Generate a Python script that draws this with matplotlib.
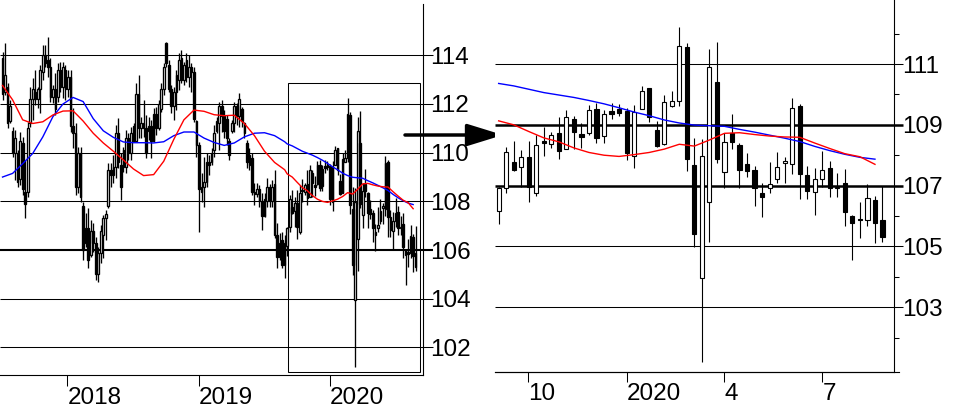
import numpy as np
import pandas as pd
import matplotlib
matplotlib.use('Agg')
import matplotlib.pyplot as plt
import matplotlib.dates as mdates
from matplotlib.patches import Rectangle

plt.rcParams['font.family'] = ['Liberation Sans', 'DejaVu Sans']
plt.rcParams['font.size'] = 17.5

# weekly bars, one per week starting 2017-07-05 (mid-week placement)
weeks = pd.date_range('2017-07-05', periods=165, freq='7D')

opn = [113.9, 112.5, 112.7, 111.3, 110.9, 110.0, 110.0, 108.9, 110.4, 108.4,
       108.4, 111.2, 112.2, 112.5, 112.2, 112.6, 113.3, 114.0, 113.8, 113.5,
       112.3, 112.6, 112.3, 113.4, 112.7, 113.4, 112.6, 113.1, 111.1, 110.8,
       108.6, 110.0, 107.8, 106.3, 106.9, 105.8, 106.8, 106.3, 105.0, 105.9,
       106.6, 107.3, 107.8, 109.3, 109.1, 109.4, 110.8, 109.5, 110.1, 109.4,
       110.6, 110.0, 111.1, 110.5, 112.4, 111.0, 111.2, 111.0, 110.9, 111.1,
       110.5, 111.6, 111.0, 111.8, 112.6, 114.5, 113.6, 112.6, 111.9, 112.5,
       113.0, 113.9, 113.0, 113.8, 113.1, 113.5, 113.3, 111.3, 110.3, 108.4,
       108.6, 108.8, 109.6, 109.6, 110.1, 110.9, 111.2, 111.9, 111.5, 111.4,
       110.5, 110.9, 111.2, 111.9, 111.5, 111.8, 111.2, 110.4, 109.5, 109.8,
       108.4, 108.3, 108.5, 108.0, 107.4, 108.0, 108.6, 108.0, 108.7, 106.6,
       105.7, 106.4, 105.4,
       106.15, 106.93, 107.77, 107.61, 107.95, 106.75, 108.47, 108.37, 108.72, 108.20,
       109.18, 108.69, 108.72, 109.51, 108.62, 109.45, 109.51, 109.46, 107.97, 109.51,
       110.20, 108.83, 108.36, 109.62, 109.78, 111.55, 107.68, 103.95, 106.47, 110.41,
       107.44, 108.72, 108.34, 107.70, 107.51, 106.76, 106.91, 107.21, 107.73, 107.70,
       109.62, 107.35, 106.80, 107.21, 107.57, 106.91, 107.08, 106.00, 105.91, 105.87,
       106.53, 105.87]
high = [114.15, 114.49, 112.85, 112.16, 111.07, 110.93, 110.11, 110.86, 110.66, 109.7,
        111.27, 112.71, 113.05, 113.4, 112.71, 113.6, 114.42, 114.42, 114.77, 113.88,
        112.78, 113.26, 113.67, 113.74, 113.74, 113.6, 113.4, 113.4, 111.82, 111.21,
        110.25, 110.25, 107.99, 107.51, 107.72, 107.24, 107.1, 106.55, 106.14, 107.03,
        107.44, 107.65, 109.56, 109.56, 109.9, 111.14, 111.41, 109.97, 110.25, 110.93,
        110.8, 111.07, 111.21, 112.85, 113.19, 111.48, 112.16, 111.55, 111.48, 111.34,
        111.82, 111.89, 112.16, 112.85, 113.67, 114.56, 113.8, 112.78, 112.71, 113.4,
        114.08, 114.22, 113.74, 114.08, 114.01, 113.67, 113.53, 111.34, 110.45, 109.15,
        109.84, 109.97, 109.9, 110.18, 111.14, 111.48, 112.1, 112.16, 111.75, 111.55,
        110.59, 111.34, 112.1, 112.03, 112.44, 111.89, 111.27, 110.52, 110.18, 109.97,
        108.74, 108.74, 108.67, 108.33, 108.33, 108.95, 108.7, 108.88, 109.29, 107.1,
        106.69, 106.76, 106.62,
        106.95, 108.28, 108.47, 108.17, 108.47, 108.66, 108.94, 108.77, 109.27, 109.49,
        109.29, 109.05, 109.65, 109.71, 109.49, 109.71, 109.67, 109.54, 109.65, 110.29,
        110.20, 109.13, 109.98, 110.11, 112.23, 111.68, 108.58, 108.53, 111.48, 111.71,
        108.74, 109.35, 108.39, 108.06, 107.64, 107.08, 107.77, 108.10, 107.95, 109.87,
        109.70, 107.64, 107.57, 108.14, 107.81, 107.40, 107.54, 106.03, 106.45, 107.04,
        106.66, 106.99]
low = [112.16, 112.37, 111.0, 111.21, 109.84, 108.88, 108.6, 108.67, 108.26, 107.3,
       108.2, 111.07, 111.34, 111.96, 111.82, 111.62, 112.99, 113.53, 113.12, 112.1,
       112.03, 111.55, 112.1, 112.51, 112.23, 112.16, 112.3, 110.86, 110.18, 108.26,
       108.33, 107.99, 105.59, 106.14, 105.25, 105.73, 105.94, 104.77, 104.7, 105.46,
       105.66, 106.41, 107.72, 108.6, 108.74, 108.95, 109.36, 108.06, 109.22, 109.15,
       109.7, 109.7, 110.45, 110.5, 110.59, 110.59, 110.66, 109.77, 110.52, 109.77,
       110.45, 110.73, 110.93, 111.69, 112.37, 113.53, 112.51, 111.62, 111.34, 111.75,
       112.58, 112.85, 112.78, 112.92, 112.71, 112.51, 111.25, 109.84, 106.76, 107.99,
       107.79, 108.6, 109.09, 109.5, 109.84, 110.8, 110.11, 110.86, 110.59, 110.32,
       109.7, 110.8, 110.86, 111.14, 111.07, 111.07, 110.59, 109.36, 109.29, 108.26,
       107.85, 108.2, 107.78, 106.83, 107.37, 107.78, 107.78, 107.78, 106.5, 105.25,
       105.59, 105.25, 104.84,
       105.74, 106.75, 107.49, 106.96, 106.47, 106.67, 107.97, 108.25, 107.87, 108.20,
       108.19, 108.23, 108.66, 108.41, 108.41, 109.18, 109.29, 107.84, 107.59, 109.51,
       109.10, 108.28, 108.34, 109.60, 109.62, 107.49, 104.99, 101.19, 105.13, 107.73,
       106.91, 108.19, 106.91, 107.27, 106.34, 105.98, 106.75, 107.08, 107.08, 107.38,
       106.55, 106.55, 106.03, 106.96, 106.64, 106.64, 105.67, 104.55, 105.29, 105.67,
       105.10, 105.16]
close = [112.4, 113.2, 111.2, 111.9, 110.0, 110.6, 108.8, 110.5, 108.5, 107.9,
         111.0, 112.2, 112.6, 112.2, 112.6, 113.4, 114.0, 113.7, 113.5, 112.3,
         112.6, 111.8, 113.4, 112.7, 113.5, 112.6, 113.1, 111.1, 110.8, 108.6,
         110.0, 108.2, 106.0, 106.9, 105.6, 106.8, 106.3, 105.0, 105.9, 106.8,
         107.3, 107.5, 109.3, 109.1, 109.4, 110.8, 109.6, 108.6, 109.4, 110.6,
         110.0, 110.8, 110.5, 112.4, 111.0, 111.2, 111.0, 110.0, 111.1, 110.5,
         111.6, 111.0, 112.0, 112.6, 113.5, 113.7, 112.6, 111.9, 112.5, 113.2,
         113.8, 113.0, 113.6, 113.1, 113.5, 113.3, 111.4, 110.3, 108.5, 108.6,
         108.8, 109.6, 109.5, 110.0, 110.8, 111.3, 111.9, 111.5, 110.9, 110.6,
         109.9, 111.2, 111.9, 111.5, 112.2, 111.3, 110.8, 109.6, 109.9, 108.4,
         108.3, 108.5, 108.0, 107.4, 108.1, 108.6, 108.0, 108.6, 106.6, 105.7,
         106.3, 105.4, 106.3,
         106.91, 108.10, 107.51, 107.93, 106.94, 108.33, 108.41, 108.66, 108.15, 109.27,
         108.77, 108.61, 109.49, 108.56, 109.35, 109.37, 109.40, 108.08, 109.43, 110.11,
         109.27, 108.30, 109.74, 109.78, 111.59, 107.87, 105.40, 107.97, 110.89, 107.88,
         108.42, 108.44, 107.51, 107.49, 106.91, 106.64, 107.04, 107.62, 107.82, 109.56,
         107.37, 106.83, 107.21, 107.51, 106.91, 106.96, 106.14, 105.78, 105.86, 106.58,
         105.76, 105.32]

# moving averages, at these week indices
ma_idx = list(range(0, 113, 4)) + list(range(113, 165, 2))
red_ma = [112.76, 112.17, 111.35, 111.2, 111.27, 111.55, 111.71, 111.72, 111.3, 110.8,
          110.4, 110.06, 109.7, 109.33, 109.06, 109.1, 109.65, 110.55, 111.35, 111.75,
          111.7, 111.56, 111.52, 111.54, 111.2, 110.7, 110.06, 109.6, 109.3,
          109.13, 109.0, 108.78, 108.57, 108.44, 108.24, 108.09, 108.0, 107.96, 108.02,
          108.09, 108.2, 108.36, 108.3, 108.5, 108.72, 108.74, 108.68, 108.63, 108.6,
          108.59, 108.4, 108.22, 108.05, 107.95, 107.7]
blue_ma = [109.0, 109.15, 109.55, 109.97, 110.65, 111.48, 112.0, 112.27, 112.1, 111.4,
           110.9, 110.63, 110.44, 110.41, 110.41, 110.4, 110.45, 110.7, 110.85, 110.85,
           110.6, 110.42, 110.3, 110.4, 110.65, 110.8, 110.82, 110.7, 110.45,
           110.36, 110.28, 110.17, 110.06, 109.98, 109.9, 109.8, 109.69, 109.56, 109.42,
           109.3, 109.16, 109.06, 108.99, 108.97, 108.95, 108.85, 108.76, 108.66, 108.56,
           108.45, 108.29, 108.15, 108.03, 107.93, 107.87]

left_levels = [102, 104, 106, 108, 110, 112, 114]
right_levels = [103, 105, 107, 109, 111]
right_minor = [102, 104, 106, 108, 110, 112]
zoom_start = 113  # first week shown in the right panel

xd = mdates.date2num(weeks.to_pydatetime())
o, h, l, c = (np.array(v) for v in (opn, high, low, close))
ma_x = xd[ma_idx]


def d(s):
    return mdates.date2num(pd.Timestamp(s).to_pydatetime())


def candles(ax, x, o, h, l, c, w, lw):
    up = c >= o
    ax.vlines(x, l, h, color='black', lw=lw, zorder=3)
    bot = np.minimum(o, c)
    hgt = np.maximum(np.abs(c - o), 0.03)
    ax.bar(x[up], hgt[up], w, bot[up], facecolor='white', edgecolor='black',
           lw=lw, zorder=4)
    ax.bar(x[~up], hgt[~up], w, bot[~up], facecolor='black', edgecolor='black',
           lw=lw, zorder=4)


def grid(ax, levels, thick, ext, lw_thick):
    for v in levels:
        ax.plot([0, 1 + ext], [v, v], transform=ax.get_yaxis_transform(),
                color='black', lw=lw_thick if v in thick else 0.75,
                clip_on=False, zorder=2, solid_capstyle='butt')


fig = plt.figure(figsize=(9.64, 4.08), dpi=100)

# left panel: three years
ax1 = fig.add_axes([0, 1 - 375 / 408, 423.3 / 964, 371 / 408])
ax1.set_xlim(d('2018-01-01') - 187.0, d('2020-01-01') + 259.2)
ax1.set_ylim(100.87, 116.107)
grid(ax1, left_levels, [106], 9.4 / 423.3, 1.5)
candles(ax1, xd, o, h, l, c, 4.6, 0.95)
ax1.plot(ma_x, blue_ma, color='#0000ff', lw=1.0, zorder=6)
ax1.plot(ma_x, red_ma, color='#ff0000', lw=1.0, zorder=6)
ax1.add_patch(Rectangle((d('2020-01-01') - 115.9, 100.98), 366.8, 112.85 - 100.98,
                        fill=False, edgecolor='black', lw=0.75, zorder=5))
ax1.set_yticks(left_levels)
ax1.yaxis.tick_right()
ax1.tick_params(axis='y', length=0, pad=5)
ax1.set_xticks([d('2018-01-01'), d('2019-01-01'), d('2020-01-01')],
               labels=['2018', '2019', '2020'])
ax1.tick_params(axis='x', length=8, width=0.75, pad=0.5)
plt.setp(ax1.get_xticklabels(), ha='left')
for s in ('top', 'left'):
    ax1.spines[s].set_visible(False)
for s in ('right', 'bottom'):
    ax1.spines[s].set_linewidth(0.8)

# right panel: last year zoomed
ax2 = fig.add_axes([495 / 964, 1 - 372.3 / 408, 399 / 964, 372.3 / 408])
ax2.set_xlim(d('2019-10-01') - 30.4, d('2019-10-01') + 340.7)
ax2.set_ylim(100.86, 113.105)
grid(ax2, right_levels, [107, 109], 9.0 / 399, 1.8)
s = slice(zoom_start, None)
candles(ax2, xd[s], o[s], h[s], l[s], c[s], 3.9, 0.8)
keep = np.array(ma_idx) >= zoom_start
ax2.plot(ma_x[keep], np.array(blue_ma)[keep], color='#0000ff', lw=1.0, zorder=6)
ax2.plot(ma_x[keep], np.array(red_ma)[keep], color='#ff0000', lw=1.0, zorder=6)
ax2.set_yticks(right_levels)
ax2.set_yticks(right_minor, minor=True)
ax2.yaxis.tick_right()
ax2.tick_params(axis='y', which='major', length=0, pad=6)
ax2.tick_params(axis='y', which='minor', length=3.8, width=0.75)
ax2.tick_params(axis='y', which='minor', labelright=False)
ax2.set_xticks([d('2019-10-01'), d('2020-01-01'), d('2020-04-01'), d('2020-07-01')],
               labels=['10', '2020', '4', '7'])
ax2.tick_params(axis='x', length=7, width=0.75, pad=1)
plt.setp(ax2.get_xticklabels(), ha='left')
for s_ in ('top', 'left'):
    ax2.spines[s_].set_visible(False)
for s_ in ('right', 'bottom'):
    ax2.spines[s_].set_linewidth(0.8)
ax2.plot([0, 1 + 5 / 399], [0, 0], transform=ax2.transAxes, color='black',
         lw=0.8, clip_on=False)

# arrow from the box to the zoomed panel
y_arrow = 1 - 135 / 408
ax1.annotate('', xy=(503 / 964, y_arrow), xytext=(405 / 964, y_arrow),
             xycoords='figure fraction', textcoords='figure fraction',
             arrowprops=dict(arrowstyle='-|>,head_length=0.55,head_width=0.17',
                             lw=2.5, color='black', mutation_scale=40,
                             shrinkA=0, shrinkB=0),
             annotation_clip=False, zorder=10)

fig.savefig('out.png', dpi=100)
